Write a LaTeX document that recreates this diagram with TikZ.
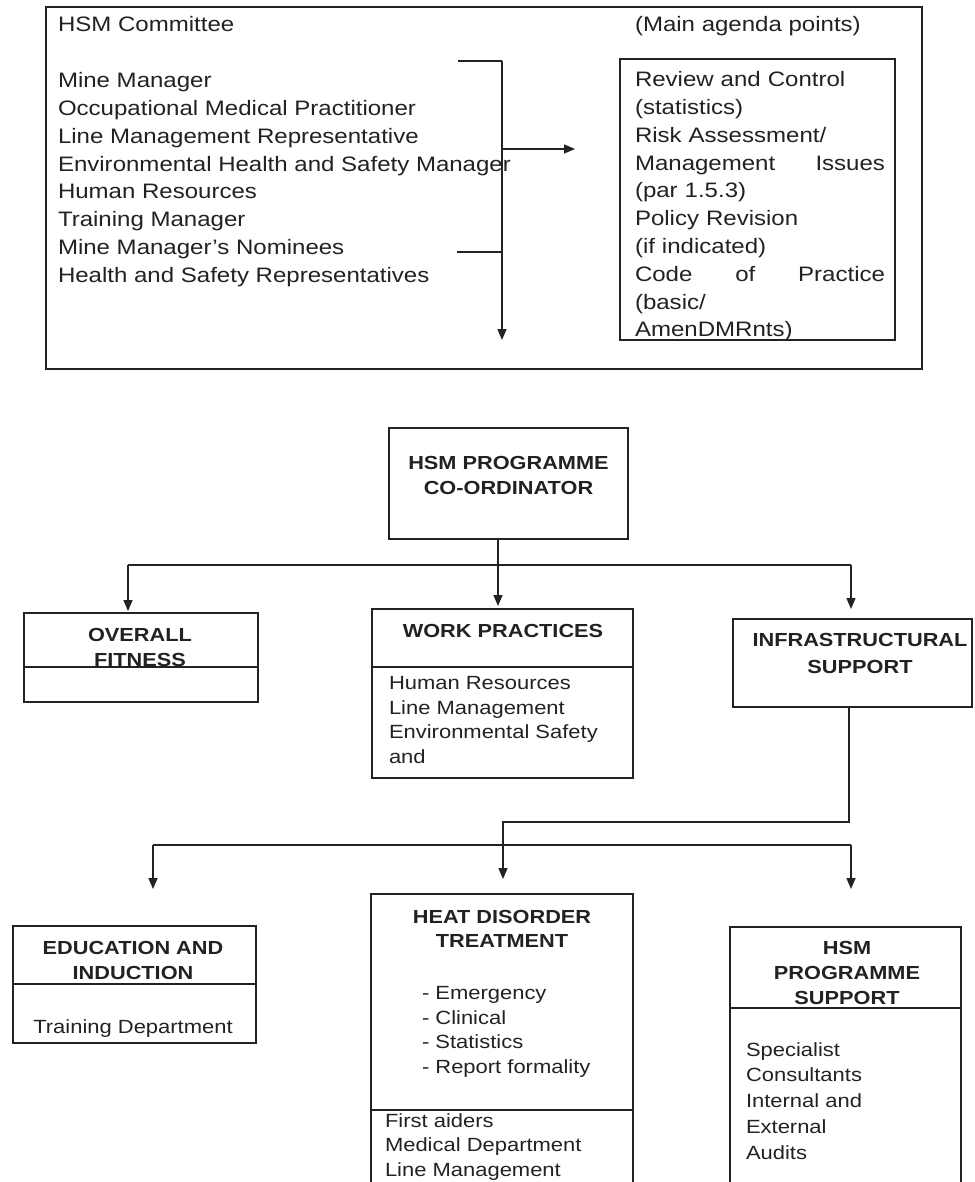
\documentclass[tikz,border=0pt]{standalone}
\usepackage{fontspec}
\setmainfont{Liberation Sans}[FakeStretch=1.15]
\usetikzlibrary{arrows.meta}
\definecolor{ink}{HTML}{222222}
\newcommand\ftop{\fontsize{20.9}{27.8}\selectfont}
\newcommand\fbody{\fontsize{19.1}{24.8}\selectfont}
\newcommand\fhead{\fontsize{18.9}{24.8}\selectfont\bfseries}
\begin{document}
\begin{tikzpicture}[x=1pt,y=-1pt,
  box/.style={draw=ink, line width=1.4pt, inner sep=0pt, outer sep=0pt, anchor=north west},
  lbl/.style={inner sep=0pt, outer sep=0pt, text=ink},
  conn/.style={draw=ink, line width=1.4pt},
  arr/.style={conn, -{Triangle[length=11pt,width=9pt]}}]
\useasboundingbox (0,0) rectangle (974,1182);
\fill[white] (0,0) rectangle (974,1182);
\clip (0,0) rectangle (974,1182);

% ---------- top committee box ----------
\node[box, minimum width=876pt, minimum height=362pt] (committee) at (46,7) {};
\node[lbl, anchor=base west, font=\ftop] (comT) at (58,32) {HSM Committee};
\node[lbl, anchor=base west, font=\ftop] (agT) at (635,32) {(Main agenda points)};
\node[lbl, anchor=north west, align=left, font=\ftop] (members) at (58,72.5)
  {Mine Manager\\Occupational Medical Practitioner\\Line Management Representative\\Environmental Health and Safety Manager\\Human Resources\\Training Manager\\Mine Manager's Nominees\\Health and Safety Representatives};
\node[box, minimum width=275pt, minimum height=281pt] (agenda) at (620,59) {};
\node[lbl, anchor=north west, align=left, text width=250pt, font=\ftop] (agendaT) at (635,71.5)
  {Review and Control\\(statistics)\\Risk Assessment/\\Management\hfill Issues\\(par 1.5.3)\\Policy Revision\\(if indicated)\\Code\hfill of\hfill Practice\\(basic/\\AmenDMRnts)};
\coordinate (brTL) at (458,61);
\coordinate (brTR) at (502,61);
\coordinate (brEnd) at (502,340);
\coordinate (brLL) at (457,252);
\coordinate (brLR) at (502,252);
\coordinate (brM) at (502,149);
\coordinate (brA) at (575,149);
\draw[conn] (brTL) -- (brTR);
\draw[arr] (brTR) -- (brEnd);
\draw[conn] (brLL) -- (brLR);
\draw[arr] (brM) -- (brA);

% ---------- coordinator ----------
\node[box, minimum width=239pt, minimum height=111pt] (coord) at (389,428) {};
\node[lbl, anchor=north, align=center, font=\fhead] (coordT) at (508.5,456.2) {HSM PROGRAMME\\CO-ORDINATOR};

% ---------- second level ----------
\node[box, minimum width=234pt, minimum height=89pt] (overall) at (24,613) {};
\draw[conn] ([yshift=-54pt]overall.north west) -- ([yshift=-54pt]overall.north east);
\node[lbl, anchor=north, align=center, font=\fhead] (overallT) at (140,628.2) {OVERALL\\FITNESS};

\node[box, minimum width=261pt, minimum height=169pt] (work) at (372,609) {};
\draw[conn] ([yshift=-58pt]work.north west) -- ([yshift=-58pt]work.north east);
\node[lbl, anchor=north, font=\fhead] (workT) at (503,624.2) {WORK PRACTICES};
\node[lbl, anchor=north west, align=left, font=\fbody] (workL) at (389,676.2)
  {Human Resources\\Line Management\\Environmental Safety\\and};

\node[box, minimum width=239pt, minimum height=88pt] (infra) at (733,619) {};
\node[lbl, anchor=north, align=center, font=\fontsize{18.9}{26.7}\selectfont\bfseries] (infraT) at (860,633.2) {INFRASTRUCTURAL\\SUPPORT};

\coordinate (busL) at (128,565);
\coordinate (busM) at (498,565);
\coordinate (busR) at (851,565);
\draw[conn] ([xshift=-10.5pt]coord.south) -- (busM);
\draw[conn] (busL) -- (busR);
\draw[arr, shorten >=2pt] (busL) -- (busL |- overall.north);
\draw[arr, shorten >=3pt] (busM) -- (busM |- work.north);
\draw[arr, shorten >=10pt] (busR) -- (busR |- infra.north);

% ---------- third level ----------
\node[box, minimum width=243pt, minimum height=117pt] (edu) at (13,926) {};
\draw[conn] ([yshift=-58pt]edu.north west) -- ([yshift=-58pt]edu.north east);
\node[lbl, anchor=north, align=center, font=\fhead] (eduT) at (133,941.2) {EDUCATION AND\\INDUCTION};
\node[lbl, anchor=north, font=\fbody] (eduL) at (133,1019.2) {Training Department};

\node[box, minimum width=262pt, minimum height=320pt] (heat) at (371,894) {};
\draw[conn] ([yshift=-216pt]heat.north west) -- ([yshift=-216pt]heat.north east);
\node[lbl, anchor=north, align=center, font=\fontsize{18.9}{24}\selectfont\bfseries] (heatT) at (502,910.2) {HEAT DISORDER\\TREATMENT};
\node[lbl, anchor=north west, align=left, font=\fbody] (heatL) at (422,986.2)
  {- Emergency\\- Clinical\\- Statistics\\- Report formality};
\node[lbl, anchor=north west, align=left, font=\fbody] (heatL2) at (385,1113.2)
  {First aiders\\Medical Department\\Line Management};

\node[box, minimum width=231pt, minimum height=290pt] (hsms) at (730,927) {};
\draw[conn] ([yshift=-81pt]hsms.north west) -- ([yshift=-81pt]hsms.north east);
\node[lbl, anchor=north, align=center, font=\fhead] (hsmsT) at (847,941.2) {HSM\\PROGRAMME\\SUPPORT};
\node[lbl, anchor=north west, align=left, font=\fontsize{19.1}{25.8}\selectfont] (hsmsL) at (746,1042.2)
  {Specialist\\Consultants\\Internal and\\External\\Audits};

\coordinate (j2) at (503,822);
\coordinate (bus2L) at (153,845);
\coordinate (bus2R) at (851,845);
\draw[arr, shorten >=15pt] ([xshift=-3.5pt]infra.south) |- (j2) -- (j2 |- heat.north);
\draw[conn] (bus2L) -- (bus2R);
\draw[arr, shorten >=37pt] (bus2L) -- (bus2L |- edu.north);
\draw[arr, shorten >=38pt] (bus2R) -- (bus2R |- hsms.north);
\end{tikzpicture}
\end{document}
